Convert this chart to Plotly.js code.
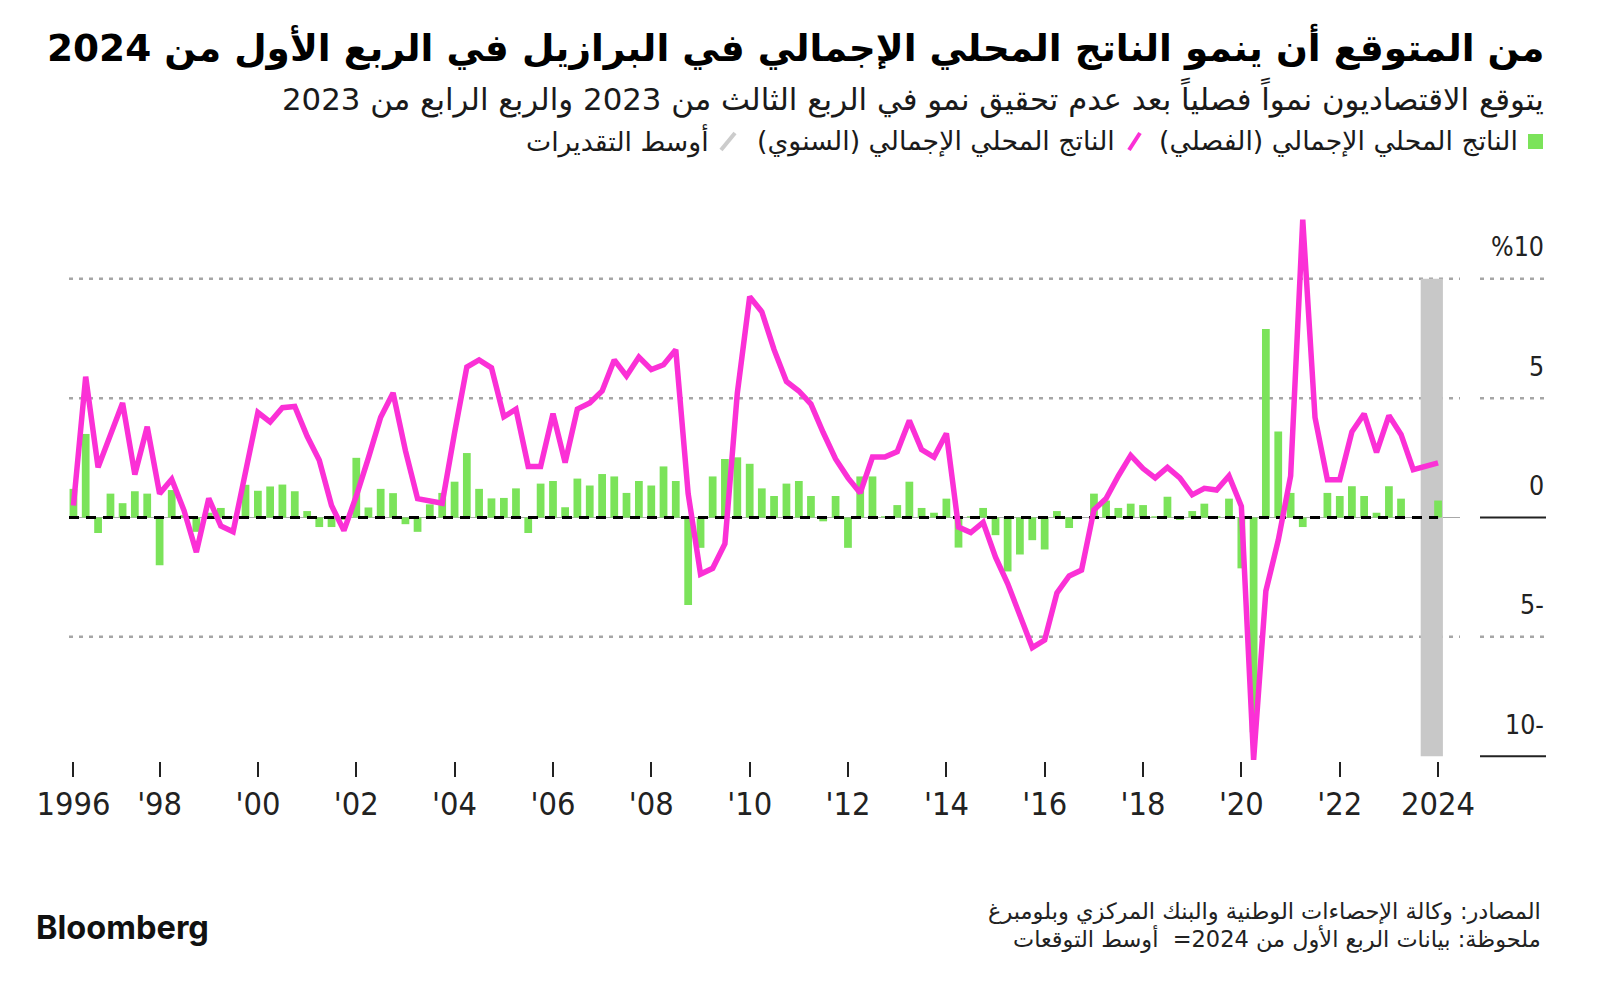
<!DOCTYPE html>
<html>
<head>
<meta charset="utf-8">
<script src="https://cdn.plot.ly/plotly-3.0.1.min.js"></script>
<style>
html,body{margin:0;padding:0;background:#fff;}
#chart{width:1600px;height:983px;}
</style>
</head>
<body>
<div id="chart"></div>
<script>
// ---------------- DATA ----------------
const startYear = 1996;
const startQuarter = 2; // first quarter shown: 1996 Q2

// Quarterly GDP growth (q/q, %), green bars
const quarterlyGDP = [
  1.2, 3.5, -0.65, 1.0, 0.6, 1.1, 1.0, -2.0, 1.15, 0.1,
  -0.6, 0.2, 0.4, 0.05, 1.37, 1.12, 1.3, 1.38, 1.1, 0.27,
  -0.4, -0.4, -0.1, 2.5, 0.42, 1.2, 1.02, -0.28, -0.6, 0.55,
  1.03, 1.5, 2.7, 1.2, 0.8, 0.82, 1.22, -0.65, 1.42, 1.53,
  0.43, 1.63, 1.34, 1.82, 1.72, 1.03, 1.53, 1.34, 2.14, 1.53,
  -3.67, -1.27, 1.72, 2.45, 2.52, 2.25, 1.22, 0.9, 1.42, 1.53,
  0.9, -0.16, 0.9, -1.27, 1.72, 1.72, 0.05, 0.52, 1.5, 0.4,
  0.2, 0.79, -1.26, 0.05, 0.4, -0.74, -2.26, -1.55, -0.95, -1.34,
  0.27, -0.44, 0.0, 1.0, 0.71, 0.4, 0.58, 0.52, 0.05, 0.87,
  -0.1, 0.27, 0.58, 0.05, 0.79, -2.13, -9.0, 7.9, 3.6, 1.03,
  -0.4, -0.05, 1.03, 0.9, 1.31, 0.9, 0.2, 1.31, 0.79, 0.0,
  0.0, 0.71
];

// Annual GDP growth (y/y, %), magenta line
const annualGDP = [
  0.5, 5.9, 2.1, 3.5, 4.8, 1.8, 3.8, 1.0, 1.6, 0.3,
  -1.45, 0.8, -0.35, -0.6, 2.0, 4.4, 4.0, 4.6, 4.65, 3.4,
  2.4, 0.5, -0.55, 0.9, 2.5, 4.2, 5.22, 2.8, 0.79, 0.68,
  0.6, 3.55, 6.3, 6.6, 6.27, 4.22, 4.54, 2.14, 2.14, 4.35,
  2.3, 4.54, 4.8, 5.3, 6.6, 5.93, 6.72, 6.2, 6.4, 7.03,
  1.0, -2.37, -2.13, -1.1, 5.2, 9.25, 8.62, 7.03, 5.7, 5.3,
  4.75, 3.56, 2.45, 1.66, 1.03, 2.53, 2.53, 2.76, 4.06, 2.84,
  2.53, 3.52, -0.4, -0.63, -0.2, -1.66, -2.77, -4.1, -5.45, -5.13,
  -3.16, -2.45, -2.2, 0.32, 0.79, 1.74, 2.6, 2.05, 1.66, 2.1,
  1.66, 0.95, 1.22, 1.15, 1.74, 0.47, -10.15, -3.08, -0.95, 1.74,
  12.48, 4.19, 1.58, 1.58, 3.59, 4.34, 2.73, 4.27, 3.48, 2.0,
  2.16, 2.29
];

const tickDates  = ['1996-04-01','1998-01-01','2000-01-01','2002-01-01','2004-01-01','2006-01-01','2008-01-01',
                    '2010-01-01','2012-01-01','2014-01-01','2016-01-01','2018-01-01','2020-01-01','2022-01-01','2024-01-01'];
const tickLabels = ['1996',"'98","'00","'02","'04","'06","'08","'10","'12","'14","'16","'18","'20","'22",'2024'];

const yTickValues = [10, 5, 0, -5, -10];
const yTickLabels = ['%10', '5', '0', '5-', '10-'];

const titleText    = 'من المتوقع أن ينمو الناتج المحلي الإجمالي في البرازيل في الربع الأول من 2024';
const subtitleText = 'يتوقع الاقتصاديون نمواً فصلياً بعد عدم تحقيق نمو في الربع الثالث من 2023 والربع الرابع من 2023';
const legendLabels = ['الناتج المحلي الإجمالي (الفصلي)', 'الناتج المحلي الإجمالي (السنوي)', 'أوسط التقديرات'];
const sourceText   = 'المصادر: وكالة الإحصاءات الوطنية والبنك المركزي وبلومبرغ';
const noteText     = 'ملحوظة: بيانات الربع الأول من 2024=  أوسط التوقعات';

// quarter dates (category positions)
const quarters = [];
for (let k = 0; k < annualGDP.length; k++) {
  const m = startQuarter - 1 + k;
  const yr = startYear + Math.floor(m / 4);
  const q = m % 4;
  quarters.push(yr + '-' + String(q * 3 + 1).padStart(2, '0') + '-01');
}

// ---------------- LAYOUT HELPERS ----------------
const W = 1600, H = 983;
const M = {l: 69, r: 140, t: 200, b: 222};
const plotW = W - M.l - M.r, plotH = H - M.t - M.b;
const px = x => (x - M.l) / plotW;
const py = y => (H - M.b - y) / plotH;
const RLM = '\u200F';
const rtl = s => RLM + s + RLM;

const AR = '"DejaVu Sans", "Noto Sans", sans-serif';
const NUM = '"Liberation Sans Narrow", "DejaVu Sans Condensed", "Roboto", "Liberation Sans", sans-serif';
const LATIN = 'Inter, "Liberation Sans", sans-serif';

const ctx = document.createElement('canvas').getContext('2d');
function fit(text, family, weight, target, maxSize) {
  ctx.font = weight + ' 100px ' + family;
  const w = ctx.measureText(text).width;
  const s = 100 * target / w;
  return maxSize ? Math.min(s, maxSize) : s;
}

const titleSize = fit(titleText, AR, 'bold', 1498);
const subSize = fit(subtitleText, AR, 'normal', 1262);
const legSize = fit(legendLabels[0], AR, 'normal', 359);
const srcSize = fit(sourceText, AR, 'normal', 553);
const bbSize = fit('Bloomberg', LATIN, 'bold', 173);
const tickSize = fit('1996', NUM, 'normal', 74, 38);
const ySize = fit('%10', NUM, 'normal', 53, 36);

const forecastStart = '2023-08-25', forecastEnd = '2024-02-06';
const xRange = ['1996-02-28', '2024-06-12'];

const GREEN = '#7be35a', MAGENTA = '#fb30d6', GRID = '#a6a6a6';

// ---------------- TRACES ----------------
const traces = [
  {
    type: 'bar', x: quarters, y: quarterlyGDP,
    marker: {color: GREEN, line: {width: 0}},
    hoverinfo: 'x+y', showlegend: false
  },
  {
    type: 'scatter', mode: 'lines',
    x: [xRange[0], quarters[quarters.length - 1]], y: [0, 0],
    line: {color: '#000', width: 3, dash: '10px,7px'},
    hoverinfo: 'skip', showlegend: false
  },
  {
    type: 'scatter', mode: 'lines', x: quarters, y: annualGDP,
    line: {color: MAGENTA, width: 5.5, shape: 'linear'},
    hoverinfo: 'x+y', showlegend: false
  }
];

// ---------------- SHAPES ----------------
const shapes = [
  {type: 'rect', xref: 'x', yref: 'y', x0: forecastStart, x1: forecastEnd, y0: -10, y1: 10,
   fillcolor: '#c8c8c8', line: {width: 0}, layer: 'below'},
  {type: 'line', xref: 'paper', yref: 'y', x0: 0, x1: 1, y0: 0, y1: 0,
   line: {color: '#a8a8a8', width: 1}, layer: 'below'}
];
[10, 5, -5].forEach(v => {
  shapes.push({type: 'line', xref: 'paper', yref: 'y', x0: 0, x1: 1, y0: v, y1: v,
    line: {color: GRID, width: 2.5, dash: '4px,6px'}, layer: 'below'});
});
yTickValues.forEach(v => {
  const solid = (v === 0 || v === -10);
  shapes.push({type: 'line', xref: 'paper', yref: 'y', x0: px(1480), x1: px(1546), y0: v, y1: v,
    line: solid ? {color: '#222', width: 2} : {color: GRID, width: 2.5, dash: '4px,6px'}});
});
// legend symbols
shapes.push({type: 'rect', xref: 'paper', yref: 'paper', x0: px(1528), x1: px(1543), y0: py(149), y1: py(134),
  fillcolor: GREEN, line: {width: 0}});
shapes.push({type: 'line', xref: 'paper', yref: 'paper', x0: px(1129), x1: px(1140), y0: py(150), y1: py(133),
  line: {color: MAGENTA, width: 4}});
shapes.push({type: 'line', xref: 'paper', yref: 'paper', x0: px(721), x1: px(735), y0: py(150), y1: py(133),
  line: {color: '#cccccc', width: 4}});

// ---------------- ANNOTATIONS ----------------
const ann = [];
function addText(text, x, y, size, family, color, xanchor, bold) {
  ann.push({text: bold ? '<b>' + text + '</b>' : text, xref: 'paper', yref: 'paper',
    x: px(x), y: py(y), xanchor: xanchor, yanchor: 'middle', showarrow: false,
    font: {family: family, size: size, color: color}});
}
addText(rtl(titleText), 1546, 46, titleSize, AR, '#000', 'right', true);
addText(rtl(subtitleText), 1546, 97, subSize, AR, '#1a1a1a', 'right', false);
addText(rtl(legendLabels[0]), 1520, 141, legSize, AR, '#1a1a1a', 'right', false);
addText(rtl(legendLabels[1]), 1117, 141, legSize, AR, '#1a1a1a', 'right', false);
addText(rtl(legendLabels[2]), 711, 141, legSize, AR, '#1a1a1a', 'right', false);
addText(rtl(sourceText), 1543, 911, srcSize, AR, '#222', 'right', false);
addText(rtl(noteText), 1543, 939, srcSize, AR, '#222', 'right', false);
addText('Bloomberg', 34, 927, bbSize, LATIN, '#111', 'left', true);

yTickValues.forEach((v, k) => {
  ann.push({text: yTickLabels[k], xref: 'paper', yref: 'y', x: px(1546), y: v,
    xanchor: 'right', yanchor: 'middle', yshift: 32, showarrow: false,
    font: {family: NUM, size: ySize, color: '#222'}});
});

// ---------------- LAYOUT ----------------
const layout = {
  width: W, height: H,
  margin: M,
  paper_bgcolor: '#fff', plot_bgcolor: 'rgba(0,0,0,0)',
  showlegend: false,
  bargap: 0.36,
  xaxis: {
    type: 'date', range: xRange,
    tickmode: 'array', tickvals: tickDates, ticktext: tickLabels,
    ticks: 'outside', ticklen: 15, tickwidth: 2, tickcolor: '#222',
    showgrid: false, zeroline: false, showline: false,
    tickfont: {family: NUM, size: tickSize, color: '#222'},
    ticklabelstandoff: -1,
    fixedrange: true
  },
  yaxis: {
    range: [-10.2, 13.3],
    showgrid: false, zeroline: false, showline: false, showticklabels: false, ticks: '',
    fixedrange: true
  },
  shapes: shapes,
  annotations: ann
};

Plotly.newPlot('chart', traces, layout, {displayModeBar: false, staticPlot: true});
</script>
</body>
</html>
